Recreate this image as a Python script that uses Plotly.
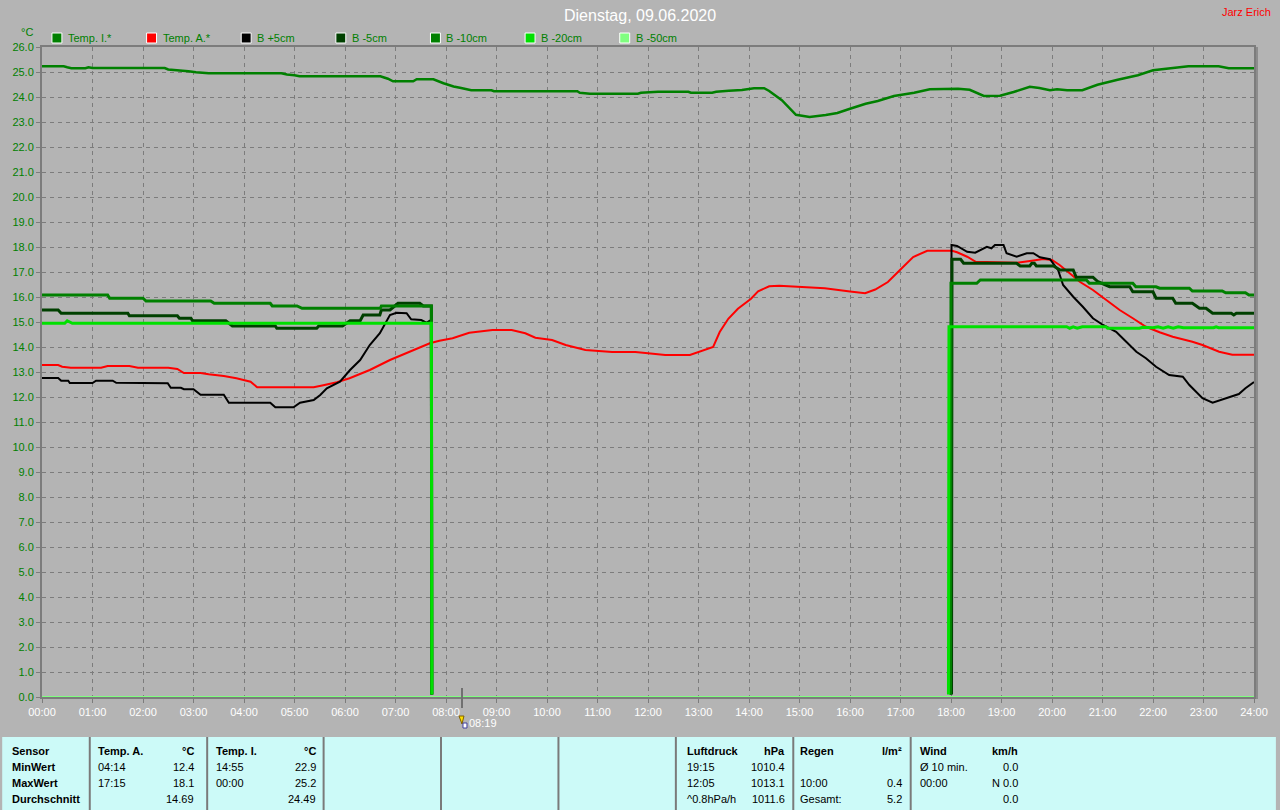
import plotly.graph_objects as go

# ---------------- data ----------------
title_text = "Dienstag, 09.06.2020"
author_text = "Jarz Erich"
y_unit = "°C"
now_time = 8 + 19 / 60
now_label = "08:19"

tick_hours = list(range(25))
tick_labels = [f"{h:02d}:00" for h in tick_hours]

series_names = ["Temp. I.*", "Temp. A.*", "B +5cm", "B -5cm", "B -10cm", "B -20cm", "B -50cm"]
series_colors = ["#008000", "#ff0000", "#000000", "#004000", "#008000", "#00e000", "#80ff80"]

temp_i_h = [0, 0.43, 0.5, 0.58, 0.86, 0.92, 1.0, 2.43, 2.5, 2.76, 2.9, 3.05, 3.3, 4.74, 4.85, 5.0, 5.1, 6.7,
            6.85, 6.95, 7.35, 7.42, 7.75, 7.95, 8.15, 8.3, 8.5, 8.9, 8.95, 10.6, 10.65, 10.85, 11.8, 11.86,
            12.2, 12.8, 12.85, 13.27, 13.35, 13.6, 13.86, 14.1, 14.3, 14.4, 14.65, 14.93, 15.2, 15.52,
            15.75, 16.0, 16.31, 16.55, 16.87, 17.27, 17.58, 18.14, 18.37, 18.65, 18.97, 19.24, 19.56,
            19.75, 19.96, 20.1, 20.3, 20.6, 20.9, 21.3, 21.7, 22.0, 22.4, 22.7, 23.3, 23.5, 24.0]
temp_i_v = [25.23, 25.23, 25.19, 25.15, 25.15, 25.19, 25.16, 25.16, 25.1, 25.07, 25.03, 24.99, 24.95, 24.95,
            24.9, 24.87, 24.83, 24.83, 24.73, 24.63, 24.63, 24.71, 24.71, 24.55, 24.42, 24.36, 24.27, 24.27,
            24.23, 24.23, 24.17, 24.13, 24.13, 24.17, 24.21, 24.21, 24.17, 24.17, 24.21, 24.25, 24.28,
            24.35, 24.35, 24.24, 23.87, 23.29, 23.2, 23.28, 23.36, 23.53, 23.73, 23.84, 24.04, 24.17,
            24.31, 24.33, 24.29, 24.04, 24.05, 24.2, 24.41, 24.36, 24.27, 24.31, 24.27, 24.27, 24.49,
            24.69, 24.87, 25.07, 25.17, 25.23, 25.23, 25.15, 25.15]

temp_a_h = [0, 0.32, 0.4, 0.57, 1.17, 1.3, 1.73, 1.9, 2.5, 2.68, 2.81, 3.14, 3.3, 3.6, 3.85, 4.13, 4.26, 5.38,
            5.57, 5.84, 6.09, 6.49, 6.89, 7.28, 7.68, 7.87, 8.13, 8.46, 8.92, 9.3, 9.57, 9.77, 10.1, 10.37,
            10.76, 11.29, 11.75, 12.0, 12.34, 12.83, 13.06, 13.29, 13.42, 13.59, 13.78, 14.04, 14.18, 14.4,
            14.6, 15.0, 15.5, 16.0, 16.3, 16.5, 16.75, 17.0, 17.25, 17.53, 18.02, 18.12, 18.32, 18.49,
            19.31, 19.6, 19.83, 20.0, 20.15, 20.35, 20.55, 20.81, 21.07, 21.34, 21.6, 21.86, 22.13, 22.39,
            22.78, 22.98, 23.31, 23.57, 24.0]
temp_a_v = [13.28, 13.28, 13.21, 13.17, 13.17, 13.24, 13.24, 13.17, 13.17, 13.12, 12.96, 12.96, 12.91, 12.84,
            12.75, 12.61, 12.39, 12.39, 12.47, 12.59, 12.75, 13.08, 13.48, 13.81, 14.15, 14.25, 14.35,
            14.57, 14.68, 14.68, 14.55, 14.37, 14.28, 14.08, 13.88, 13.8, 13.8, 13.75, 13.68, 13.68, 13.85,
            14.0, 14.6, 15.13, 15.53, 15.93, 16.23, 16.43, 16.45, 16.4, 16.35, 16.22, 16.15, 16.3, 16.6,
            17.1, 17.6, 17.85, 17.85, 17.79, 17.61, 17.41, 17.37, 17.45, 17.52, 17.48, 17.28, 16.95, 16.61,
            16.28, 15.88, 15.48, 15.15, 14.81, 14.59, 14.41, 14.21, 14.08, 13.81, 13.69, 13.69]

b5_h = [0, 0.32, 0.38, 0.52, 0.55, 1.0, 1.07, 1.4, 1.47, 2.29, 2.49, 2.55, 2.75, 2.81, 3.0, 3.14, 3.6, 3.7,
        4.52, 4.62, 4.98, 5.11, 5.38, 5.51, 5.64, 5.9, 6.1, 6.3, 6.49, 6.69, 6.89, 7.02, 7.22, 7.31, 7.51,
        7.61, 7.7, 7.71, None, 18.0, 18.01, 18.12, 18.32, 18.48, 18.6, 18.71, 18.8, 18.87, 19.04, 19.1,
        19.3, 19.5, 19.63, 19.76, 19.96, 20.12, 20.22, 20.42, 20.61, 20.81, 21.01, 21.27, 21.47, 21.67,
        21.86, 22.06, 22.32, 22.59, 22.72, 22.98, 23.18, 23.44, 23.7, 23.83, 24.0]
b5_v = [12.76, 12.76, 12.65, 12.65, 12.56, 12.56, 12.65, 12.65, 12.57, 12.57, 12.55, 12.37, 12.37, 12.31,
        12.31, 12.09, 12.09, 11.77, 11.77, 11.59, 11.59, 11.77, 11.88, 12.08, 12.35, 12.61, 13.08, 13.48,
        14.08, 14.55, 15.28, 15.37, 15.35, 15.11, 15.08, 14.97, 15.08, 0.1, None, 0.1, 18.08, 18.04, 17.81,
        17.77, 17.91, 18.01, 17.95, 18.08, 18.08, 17.75, 17.61, 17.75, 17.75, 17.59, 17.51, 17.08, 16.48,
        16.01, 15.61, 15.15, 14.88, 14.61, 14.21, 13.81, 13.55, 13.21, 12.88, 12.81, 12.48, 11.95, 11.77,
        11.95, 12.12, 12.35, 12.6]

bm5_h = [0, 0.32, 0.38, 1.7, 1.73, 2.68, 2.72, 2.95, 2.98, 3.64, 3.77, 4.62, 4.65, 5.44, 5.48, 5.95, 6.1,
         6.3, 6.36, 6.69, 6.72, 6.89, 7.05, 7.48, 7.55, 7.71, 7.72, None, 18.01, 18.02, 18.19, 18.25, 19.3,
         19.37, 19.56, 19.6, 19.65, 19.69, 20.03, 20.16, 20.42, 20.48, 20.81, 20.91, 21.14, 21.54, 21.6,
         22.0, 22.06, 22.39, 22.45, 22.78, 22.92, 23.05, 23.18, 23.55, 23.6, 23.65, 24.0]
bm5_v = [15.48, 15.48, 15.35, 15.35, 15.25, 15.25, 15.15, 15.15, 15.05, 15.05, 14.84, 14.84, 14.75, 14.75,
         14.84, 14.84, 15.05, 15.05, 15.28, 15.28, 15.48, 15.48, 15.75, 15.75, 15.64, 15.64, 0.1, None,
         0.1, 17.51, 17.51, 17.35, 17.35, 17.24, 17.24, 17.35, 17.35, 17.24, 17.24, 17.08, 17.08, 16.79,
         16.79, 16.61, 16.41, 16.41, 16.21, 16.21, 15.95, 15.95, 15.75, 15.75, 15.55, 15.55, 15.35, 15.35,
         15.28, 15.35, 15.35]

bm10_h = [0, 1.3, 1.34, 2.0, 2.06, 3.34, 3.41, 4.52, 4.56, 5.05, 5.15, 6.7, 6.72, 7.71, 7.72, None, 17.99,
          18.0, 18.51, 18.58, 20.68, 20.74, 21.6, 21.66, 22.06, 22.13, 22.72, 22.78, 23.37, 23.44, 23.83,
          23.9, 24.0]
bm10_v = [16.08, 16.08, 15.95, 15.95, 15.84, 15.84, 15.75, 15.75, 15.64, 15.64, 15.55, 15.55, 15.64, 15.64,
          0.1, None, 0.1, 16.55, 16.55, 16.68, 16.68, 16.55, 16.55, 16.41, 16.41, 16.35, 16.35, 16.24,
          16.24, 16.17, 16.17, 16.08, 16.08]

bm20_h = [0, 0.45, 0.5, 0.6, 7.71, 7.72, None, 17.95, 17.96, 20.29, 20.35, 20.42, 20.5, 20.6, 21.07, 21.1,
          21.73, 21.8, 22.0, 22.1, 22.2, 22.3, 22.4, 22.5, 22.6, 23.2, 23.25, 23.3, 24.0]
bm20_v = [14.95, 14.95, 15.05, 14.95, 14.95, 0.1, None, 0.1, 14.81, 14.81, 14.75, 14.81, 14.75, 14.81,
          14.81, 14.75, 14.75, 14.79, 14.77, 14.81, 14.75, 14.81, 14.75, 14.81, 14.77, 14.77, 14.81, 14.77,
          14.77]

bm50_h = [0, 24]
bm50_v = [0.0, 0.0]

series_h = [temp_i_h, temp_a_h, b5_h, bm5_h, bm10_h, bm20_h, bm50_h]
series_v = [temp_i_v, temp_a_v, b5_v, bm5_v, bm10_v, bm20_v, bm50_v]
series_widths = [2.5, 2, 2, 3, 3, 3, 2]

# bottom table
col_sensor = ["Sensor", "MinWert", "MaxWert", "Durchschnitt"]
col_ta_time = ["Temp. A.", "04:14", "17:15", ""]
col_ta_val = ["°C", "12.4", "18.1", "14.69"]
col_ti_time = ["Temp. I.", "14:55", "00:00", ""]
col_ti_val = ["°C", "22.9", "25.2", "24.49"]
col_lu_time = ["Luftdruck", "19:15", "12:05", "^0.8hPa/h"]
col_lu_val = ["hPa", "1010.4", "1013.1", "1011.6"]
col_re_time = ["Regen", "", "10:00", "Gesamt:"]
col_re_val = ["l/m²", "", "0.4", "5.2"]
col_wi_time = ["Wind", "Ø 10 min.", "00:00", ""]
col_wi_val = ["km/h", "0.0", "N 0.0", "0.0"]

# ---------------- layout geometry (pixels) ----------------
W, H = 1280, 810
L, R, T, B = 40, 22, 47, 113
PW, PH = W - L - R, H - T - B
FONT = "Liberation Sans"


def fx(px):
    return (px - L) / PW


def fy(py):
    return (T + PH - py) / PH


fig = go.Figure()
for name, xs, ys, col, wd in zip(series_names, series_h, series_v, series_colors, series_widths):
    fig.add_trace(go.Scatter(x=xs, y=ys, mode="lines", name=name, showlegend=False,
                             line=dict(color=col, width=wd), hoverinfo="skip", connectgaps=False))

shapes = []
annotations = []

# bottom table panel
shapes.append(dict(type="rect", xref="paper", yref="paper", x0=fx(0), x1=fx(W), y0=fy(737), y1=fy(H),
                   fillcolor="#ccfaf8", line=dict(width=0), layer="below"))
for sx in [88, 206, 323, 441, 559, 677, 795, 913]:
    shapes.append(dict(type="line", xref="paper", yref="paper", x0=fx(sx), x1=fx(sx), y0=fy(737), y1=fy(H),
                       line=dict(color="#7a7a7a", width=2)))
# right double border
shapes.append(dict(type="line", xref="paper", yref="paper", x0=fx(1261), x1=fx(1261), y0=fy(47), y1=fy(699),
                   line=dict(color="#8c8c8c", width=2)))
# now tick and marker icon
shapes.append(dict(type="line", xref="x", yref="paper", x0=now_time, x1=now_time, y0=fy(688), y1=fy(708),
                   line=dict(color="#707070", width=2)))
nx = L + now_time * PW / 24
shapes.append(dict(type="path", xref="paper", yref="paper",
                   path=f"M {fx(nx - 3)} {fy(716)} L {fx(nx + 2)} {fy(716)} L {fx(nx)} {fy(724)} Z",
                   fillcolor="#ffe000", line=dict(color="#806000", width=1)))
shapes.append(dict(type="rect", xref="paper", yref="paper", x0=fx(nx + 1), x1=fx(nx + 5), y0=fy(728),
                   y1=fy(723), fillcolor="white", line=dict(color="#4040a0", width=1)))

# title & author
annotations.append(dict(text=title_text, x=fx(641), y=fy(15), xref="paper", yref="paper", showarrow=False,
                        font=dict(family=FONT, size=16, color="white"), xanchor="center", yanchor="middle"))
annotations.append(dict(text=author_text, x=fx(1277), y=fy(12), xref="paper", yref="paper", showarrow=False,
                        font=dict(family=FONT, size=11, color="#ff0000"), xanchor="right", yanchor="middle"))
annotations.append(dict(text=y_unit, x=fx(25), y=fy(32), xref="paper", yref="paper", showarrow=False,
                        font=dict(family=FONT, size=11, color="#008000"), xanchor="center", yanchor="middle"))
annotations.append(dict(text=now_label, x=now_time, y=fy(723), xref="x", yref="paper", showarrow=False,
                        font=dict(family=FONT, size=11, color="white"), xanchor="left", yanchor="middle",
                        xshift=5))

# custom legend
for i, (name, col) in enumerate(zip(series_names, series_colors)):
    x0 = 50 + i * 95.1
    shapes.append(dict(type="rect", xref="paper", yref="paper", x0=fx(x0), x1=fx(x0 + 10), y0=fy(43),
                       y1=fy(33), fillcolor=col, line=dict(color="white", width=1)))
    annotations.append(dict(text=name, x=fx(x0 + 14), y=fy(38), xref="paper", yref="paper", showarrow=False,
                            font=dict(family=FONT, size=11, color="#008000"), xanchor="left",
                            yanchor="middle"))

# table text
row_y = [751, 767, 783, 799]


def add_col(texts, px, anchor, bold_first, bold_all=False):
    for j, t in enumerate(texts):
        if not t:
            continue
        bold = bold_all or (bold_first and j == 0)
        annotations.append(dict(text=f"<b>{t}</b>" if bold else t, x=fx(px), y=fy(row_y[j]), xref="paper",
                                yref="paper", showarrow=False, xanchor=anchor, yanchor="middle",
                                font=dict(family=FONT, size=11, color="black")))


add_col(col_sensor, 8, "left", True, bold_all=True)
add_col(col_ta_time, 94, "left", True)
add_col(col_ta_val, 195, "right", True)
add_col(col_ti_time, 213, "left", True)
add_col(col_ti_val, 317, "right", True)
add_col(col_lu_time, 686, "left", True)
add_col(col_lu_val, 789, "right", True)
add_col(col_re_time, 800, "left", True)
add_col(col_re_val, 906, "right", True)
add_col(col_wi_time, 920, "left", True)
add_col(col_wi_val, 1023, "right", True)

grid = dict(showgrid=True, gridcolor="#7c7c7c", gridwidth=1, griddash="4px,4px")

fig.update_layout(
    width=W, height=H, margin=dict(l=L, r=R, t=T, b=B, pad=0),
    paper_bgcolor="#b4b4b4", plot_bgcolor="#b4b4b4",
    shapes=shapes, annotations=annotations, showlegend=False,
    xaxis=dict(range=[0, 24], tickvals=tick_hours, ticktext=tick_labels, zeroline=False,
               tickfont=dict(family=FONT, size=11, color="white"), ticks="outside", ticklen=4,
               tickcolor="#7c7c7c", showline=True, linecolor="#7c7c7c", linewidth=2, mirror=True, **grid),
    yaxis=dict(range=[0, 26], dtick=1, tick0=0, tickformat=".1f", zeroline=False,
               tickfont=dict(family=FONT, size=11, color="#008000"), ticks="outside", ticklen=4,
               tickcolor="#7c7c7c", showline=True, linecolor="#7c7c7c", linewidth=2, mirror=True, **grid),
)

fig.write_html("out.html", config={"displayModeBar": False, "staticPlot": True},
               post_script="document.body.style.margin='0';document.body.style.overflow='hidden';")
